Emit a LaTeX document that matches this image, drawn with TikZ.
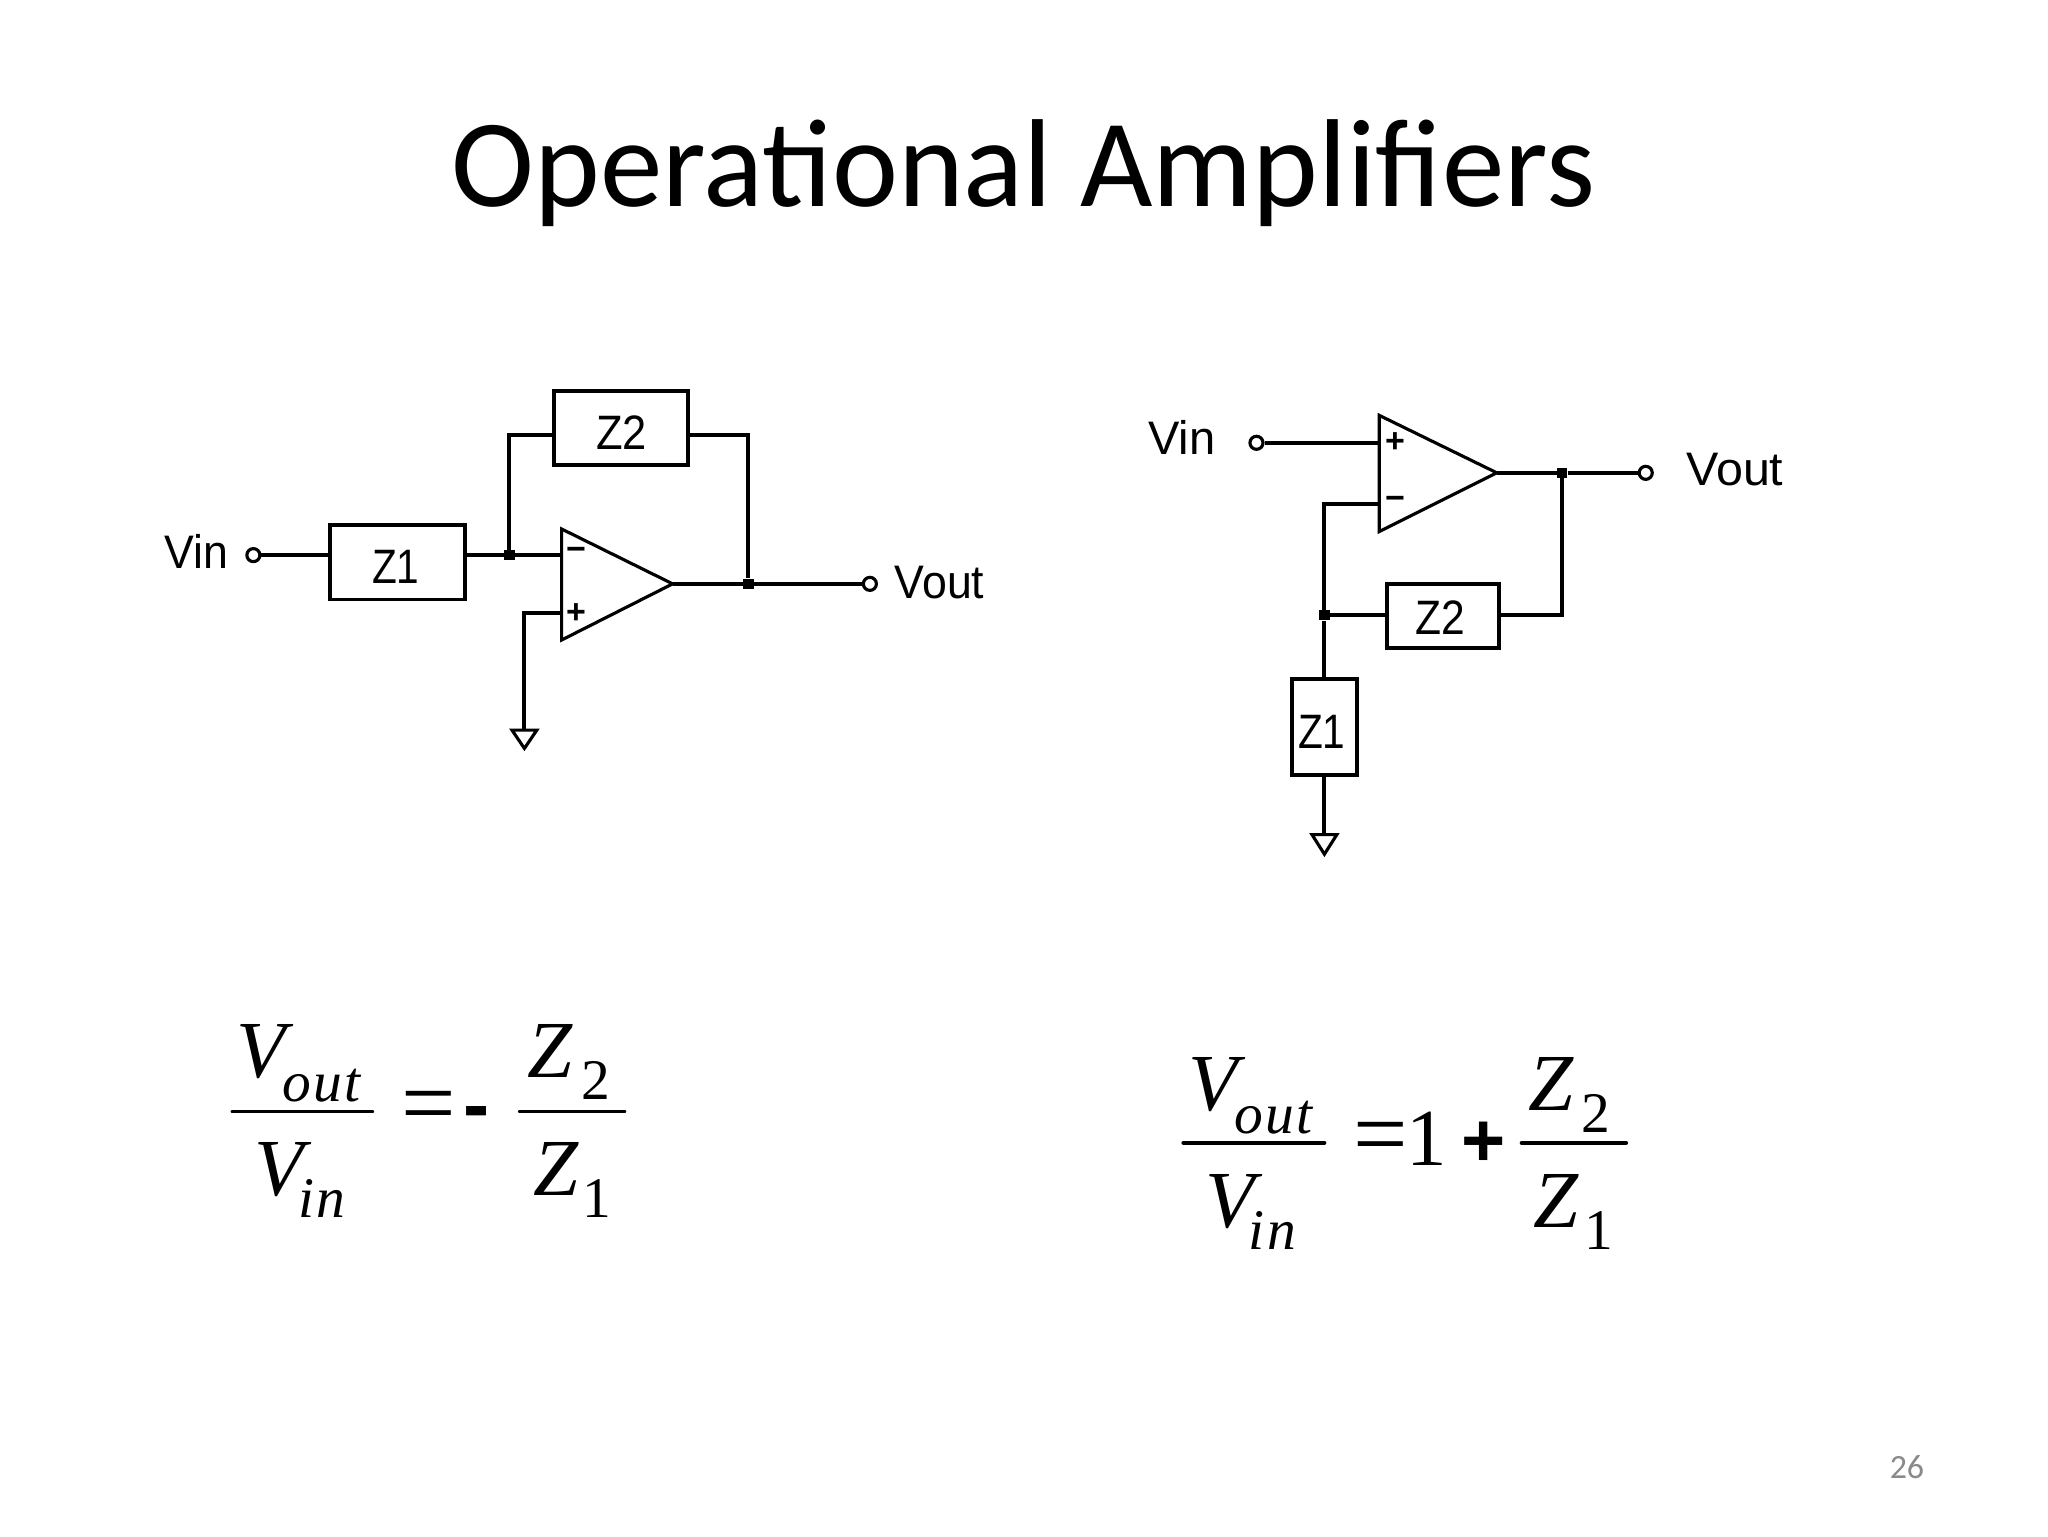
\documentclass[tikz,border=0pt]{standalone}
\usepackage{fontspec}
\setmainfont{Liberation Sans}
\newfontfamily\titlef{Carlito}
\newfontfamily\eqf{Liberation Serif}
\newfontfamily\eqsp[LetterSpace=4]{Liberation Serif}
\newfontfamily\eqb{Liberation Sans}
\newcommand{\fsz}[1]{\fontsize{#1}{#1}\selectfont}
\tikzset{
  wire/.style={line width=3pt,line join=miter},
  imped/.style={draw,line width=3pt,fill=white,inner sep=0pt,font=\fsz{36}},
  term/.style={draw,circle,line width=2.4pt,fill=white,minimum size=10pt,inner sep=0pt},
  junc/.style={fill=black,rectangle,minimum size=8pt,inner sep=0pt},
  pinlab/.style={font=\fsz{36},inner sep=0pt,anchor=base west},
  signlab/.style={font=\bfseries\fsz{26},inner sep=0pt},
  opamp/.style={draw,line width=2.4pt,line join=miter},
  gnd/.style={draw,line width=2.4pt,line join=miter},
  eqt/.style={inner sep=0pt,anchor=base west},
  frac/.style={line width=3pt,line cap=round}
}
\begin{document}
\begin{tikzpicture}[x=1pt,y=-1pt]
\useasboundingbox (0,0) rectangle (1568,1176);
\fill[white] (0,0) rectangle (1568,1176);
\node[inner sep=0pt,anchor=base] (title) at (783.5,158) {\titlef\fsz{95.8}Operational Amplifiers};
\node[inner sep=0pt,anchor=base,text=black!46] (pnum) at (1460,1132) {\titlef\fsz{26}26};

% left circuit
\node[pinlab,xscale=.95] (lvin) at (126,435) {Vin};
\node[term] (lt1) at (194,425) {};
\node[imped,minimum width=103pt,minimum height=57pt] (lz1) at (304.5,430.5) {};
\node[xscale=.84,font=\fsz{37},inner sep=0pt] (lz1t) at (303,434) {Z1};
\node[imped,minimum width=103pt,minimum height=57pt] (lz2) at (475.5,327.5) {};
\node[xscale=.9,font=\fsz{37},inner sep=0pt] (lz2t) at (476,331) {Z2};
\coordinate (la) at (430,405);
\coordinate (lb) at (430,490);
\coordinate (lo) at (515,447);
\coordinate (lm) at (430,425);
\coordinate (lp) at (430,469);
\coordinate (lfb) at (390,333);
\draw[opamp] (la) -- (lo) -- (lb) -- cycle;
\node[signlab] (lmin) at (441,424) {−};
\node[signlab] (lpl) at (441,470) {+};
\node[junc] (lj1) at (390,425) {};
\node[junc] (lj2) at (573,447) {};
\node[term] (lt2) at (666,447) {};
\node[pinlab,xscale=.95] (lvout) at (685,458) {Vout};
\coordinate (lg) at (401,558);
\draw[wire] (lt1) -- (lt1 -| lz1.west);
\draw[wire] (lz1.east |- lj1) -- (lj1) -- (lm);
\draw[wire] (lj1) -- (lfb) -- (lfb -| lz2.west);
\draw[wire] (lfb -| lz2.east) -- (lfb -| lj2) -- (lj2);
\draw[wire] (lo) -- (lj2) -- (lt2);
\draw[wire] (lp) -- (lg |- lp) -- (lg);
\draw[gnd] (392,559) -- (411,559) -- (401.5,573) -- cycle;

% right circuit
\node[pinlab] (rvin) at (879,348) {Vin};
\node[term] (rt1) at (962,339) {};
\coordinate (ra) at (1056,318);
\coordinate (rb) at (1056,407);
\coordinate (ro) at (1146,362);
\coordinate (rp) at (1056,339);
\coordinate (rm) at (1056,386);
\draw[opamp] (ra) -- (ro) -- (rb) -- cycle;
\node[signlab] (rpl) at (1068,339) {+};
\node[signlab] (rmin) at (1068,385) {−};
\node[junc] (rj1) at (1196,362) {};
\node[junc] (rj2) at (1014,471) {};
\node[term] (rt2) at (1260,362) {};
\node[pinlab,xscale=1.03] (rvout) at (1291,372) {Vout};
\node[imped,minimum width=86pt,minimum height=49pt] (rz2) at (1105,471.5) {};
\node[xscale=.88,font=\fsz{37},inner sep=0pt] (rz2t) at (1103,473) {Z2};
\node[imped,minimum width=50pt,minimum height=73pt] (rz1) at (1014,556.5) {};
\node[xscale=.84,font=\fsz{37},inner sep=0pt] (rz1t) at (1012,560) {Z1};
\coordinate (rg) at (1014,638);
\draw[wire] (rt1) -- (rp);
\draw[wire] (ro) -- (rj1) -- (rt2);
\draw[wire] (rm) -- (rj2 |- rm) -- (rj2) -- (rz1.north);
\draw[wire] (rj2) -- (rz2.west |- rj2);
\draw[wire] (rz2.east |- rj2) -- (rj1 |- rj2) -- (rj1);
\draw[wire] (rz1.south) -- (rg);
\draw[gnd] (1004.5,639) -- (1023.5,639) -- (1014,654) -- cycle;

% left equation
\node[eqt] (a1) at (181,825) {\eqf\itshape\fsz{62}V};
\node[eqt] (a2) at (216,843) {\eqsp\itshape\fsz{44}out};
\coordinate (a3) at (178,851); \coordinate (a4) at (285,851);
\draw[frac] (a3) -- (a4);
\node[eqt] (a5) at (195,915) {\eqf\itshape\fsz{62}V};
\node[eqt] (a6) at (228,932) {\eqsp\itshape\fsz{44}in};
\node[eqt] (a7) at (307,869) {\eqf\fsz{74}=};
\node[eqt] (a8) at (355,866) {\eqb\bfseries\fsz{60}-};
\node[eqt] (a9) at (404,825) {\eqf\itshape\fsz{62}Z};
\node[eqt] (a10) at (445,842) {\eqf\fsz{44}2};
\coordinate (a11) at (398,851); \coordinate (a12) at (478,851);
\draw[frac] (a11) -- (a12);
\node[eqt] (a13) at (408,915) {\eqf\itshape\fsz{62}Z};
\node[eqt] (a14) at (446,932) {\eqf\fsz{44}1};

% right equation
\node[eqt] (b1) at (910,850) {\eqf\itshape\fsz{62}V};
\node[eqt] (b2) at (945,868) {\eqsp\itshape\fsz{44}out};
\coordinate (b3) at (906,875); \coordinate (b4) at (1014,875);
\draw[frac] (b3) -- (b4);
\node[eqt] (b5) at (923,940) {\eqf\itshape\fsz{62}V};
\node[eqt] (b6) at (956,957) {\eqsp\itshape\fsz{44}in};
\node[eqt] (b7) at (1036,893) {\eqf\fsz{74}=};
\node[eqt] (b8) at (1077,892) {\eqf\fsz{62}1};
\node[eqt] (b9) at (1118.5,893) {\eqb\bfseries\fsz{58}+};
\node[eqt] (b10) at (1170,850) {\eqf\itshape\fsz{62}Z};
\node[eqt] (b11) at (1211,867) {\eqf\fsz{44}2};
\coordinate (b12) at (1165,875); \coordinate (b13) at (1245,875);
\draw[frac] (b12) -- (b13);
\node[eqt] (b14) at (1174,940) {\eqf\itshape\fsz{62}Z};
\node[eqt] (b15) at (1213,957) {\eqf\fsz{44}1};
\end{tikzpicture}
\end{document}
